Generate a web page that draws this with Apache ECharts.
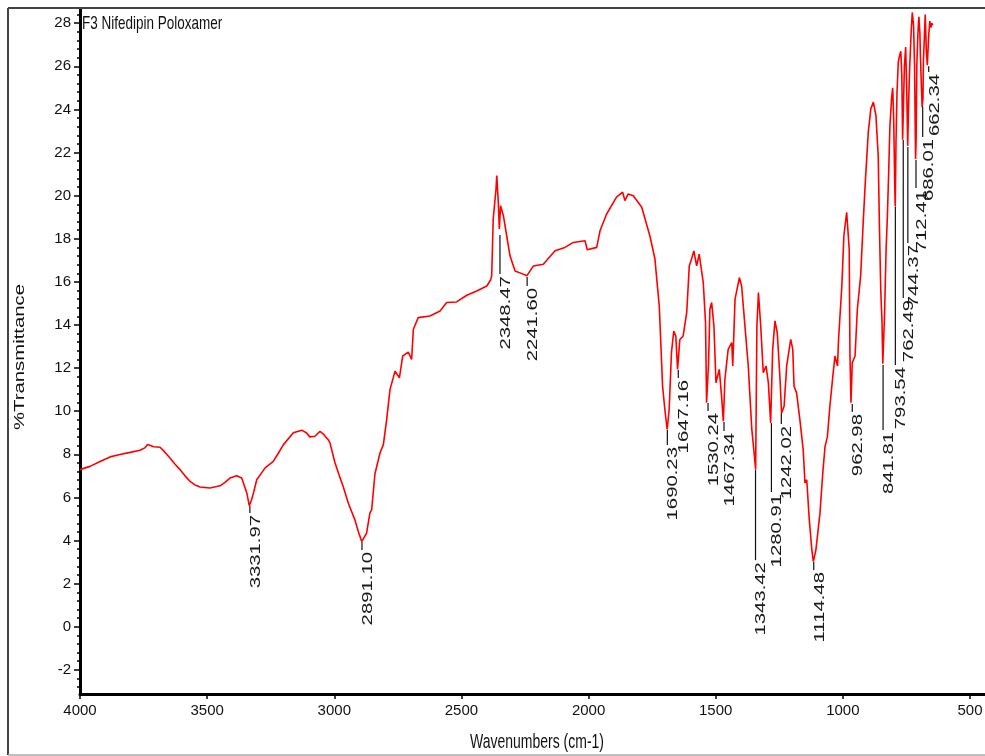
<!DOCTYPE html>
<html>
<head>
<meta charset="utf-8">
<script src="https://cdn.jsdelivr.net/npm/echarts@6/dist/echarts.min.js"></script>
<style>
html,body{margin:0;padding:0;background:#fff;}
#chart{width:985px;height:756px;}
</style>
</head>
<body>
<div id="chart"></div>
<script>
// ---- data ----
const wavenumber = [4000,3961,3921,3882,3843,3803,3764,3745,3734,3710,3685,3666,3646,3627,3607,3587,3567,3548,3528,3489,3449,3430,3410,3384,3364,3344,3334,3325,3318,3305,3272,3240,3220,3200,3161,3128,3110,3096,3076,3056,3040,3024,3017,2997,2980,2965,2945,2919,2905,2892,2873,2860,2853,2840,2820,2807,2794,2781,2761,2744,2731,2709,2696,2689,2670,2624,2584,2558,2519,2479,2440,2400,2385,2381,2375,2364,2361,2355,2351,2346,2335,2322,2309,2289,2257,2243,2217,2178,2132,2093,2060,2014,2005,1968,1955,1929,1890,1866,1857,1844,1824,1791,1759,1739,1733,1722,1717,1709,1700,1691,1683,1674,1665,1657,1650,1641,1628,1614,1604,1595,1586,1575,1565,1549,1540,1536,1528,1523,1516,1507,1499,1486,1477,1470,1464,1451,1437,1433,1424,1407,1398,1385,1372,1358,1349,1343,1338,1332,1323,1313,1302,1293,1284,1276,1267,1258,1247,1241,1231,1221,1205,1197,1192,1182,1169,1156,1149,1142,1132,1122,1116,1106,1090,1079,1070,1061,1051,1038,1031,1021,1017,1004,996,985,980,975,972,968,963,952,943,930,920,911,900,890,880,870,861,856,851,846,843,836,830,825,820,815,808,804,800,796,794,791,787,782,777,772,768,765,762,758,753,749,745,741,737,731,727,722,718,714,712,709,705,701,697,695,691,688,685,683,679,676,672,668,665,662,658,654,650,646];
const transmittance = [7.29,7.44,7.67,7.88,7.99,8.09,8.19,8.30,8.45,8.35,8.33,8.10,7.83,7.55,7.29,7.00,6.74,6.58,6.48,6.44,6.54,6.70,6.90,7.01,6.90,6.20,5.61,5.90,6.20,6.82,7.37,7.67,8.05,8.45,9.00,9.12,9.00,8.81,8.84,9.07,8.90,8.68,8.53,7.60,7.00,6.51,5.74,4.96,4.40,3.95,4.34,5.27,5.43,7.10,8.07,8.45,9.61,11.00,11.86,11.55,12.56,12.74,12.40,13.80,14.34,14.42,14.65,15.04,15.07,15.38,15.58,15.81,16.10,16.28,18.92,20.31,20.93,19.69,18.45,19.53,19.07,18.14,17.21,16.51,16.36,16.28,16.74,16.82,17.44,17.60,17.83,17.91,17.49,17.60,18.37,19.15,19.93,20.16,19.77,20.08,20.00,19.46,18.14,17.06,16.28,14.88,13.49,11.16,10.08,9.15,10.08,12.72,13.72,13.49,11.94,13.33,13.49,14.58,16.74,17.06,17.44,16.74,17.29,15.97,14.11,10.39,12.25,14.73,15.04,13.95,11.32,11.94,10.70,9.53,11.47,12.87,13.18,12.10,15.20,16.20,15.81,13.95,12.10,9.15,8.07,7.29,13.95,15.50,13.95,11.79,12.10,11.32,9.46,12.87,14.19,13.64,11.47,9.92,10.23,12.10,13.33,12.87,11.16,10.85,9.61,8.22,6.67,6.82,4.96,3.57,3.02,3.57,5.27,7.13,8.37,8.80,10.23,11.79,12.56,12.10,13.33,15.81,18.14,19.23,19.30,17.52,12.56,10.39,12.25,12.56,14.73,16.28,18.76,20.78,22.95,24.03,24.34,23.72,21.86,18.45,15.66,14.11,12.20,14.50,17.50,19.00,21.00,23.20,24.60,25.00,23.50,20.50,19.50,22.50,24.80,26.20,26.50,26.70,25.50,22.60,24.00,26.00,26.90,25.00,22.30,24.50,26.00,27.70,28.50,27.90,26.00,21.70,22.50,26.10,27.50,28.30,27.50,26.50,25.00,24.10,24.50,26.30,27.50,28.40,26.80,26.05,26.10,27.50,28.10,27.80,28.00,27.90];

const peakWavenumbers = [3331.97,2891.10,2348.47,2241.60,1690.23,1647.16,1530.24,1467.34,1343.42,1280.91,1242.02,1114.48,962.98,841.81,793.54,762.49,744.37,712.41,686.01,662.34];
const peakLineTop    = [5.60,3.93,18.18,16.23,9.13,11.91,10.38,9.50,7.27,9.45,9.92,3.00,10.33,12.14,19.48,22.58,22.26,21.65,24.12,26.00];
const peakLineBottom = [5.28,3.56,16.36,15.81,8.43,11.54,10.01,9.08,3.09,6.25,9.41,2.63,9.96,9.13,12.14,15.25,17.80,20.35,22.72,25.74];

const xTickLabels = [500,1000,1500,2000,2500,3000,3500,4000];
const yTickLabels = [-2,0,2,4,6,8,10,12,14,16,18,20,22,24,26,28];

const titleText = 'F3 Nifedipin Poloxamer';
const xName = 'Wavenumbers (cm-1)';
const yName = '%Transmittance';

// ---- build ----
const spectrum = wavenumber.map((w, i) => [w, transmittance[i]]);
const peaks = peakWavenumbers.map((w, i) => [w, peakLineTop[i], peakLineBottom[i], w.toFixed(2)]);

// minor ticks: 4 subdivisions between major y ticks (plus one step beyond ends)
const yMinor = [];
const step = (yTickLabels[1] - yTickLabels[0]) / 5;
for (let i = -1; i < yTickLabels.length; i++) {
  const base = i < 0 ? yTickLabels[0] - (yTickLabels[1] - yTickLabels[0]) : yTickLabels[i];
  for (let k = 1; k < 5; k++) yMinor.push(+(base + k * step).toFixed(2));
}

const Y_MIN = -3.12, Y_MAX = 28.66, X_MIN = 441, X_MAX = 4000;

const chart = echarts.init(document.getElementById('chart'), null, {renderer: 'canvas'});
const sans = '"Liberation Sans", Arial, sans-serif';
const plain = v => String(v);

chart.setOption({
  animation: false,
  backgroundColor: '#fff',
  grid: {left: 80, right: 0, top: 9, bottom: 62, containLabel: false, outerBoundsMode: 'none'},
  xAxis: {
    type: 'value', inverse: true, min: X_MIN, max: X_MAX,
    axisLine: {show: true, onZero: false, lineStyle: {color: '#000', width: 3}},
    axisTick: {show: true, length: 5, customValues: xTickLabels, lineStyle: {color: '#000', width: 1.5}},
    axisLabel: {customValues: xTickLabels, formatter: plain, margin: 9, fontFamily: sans, fontSize: 15, color: '#111'},
    splitLine: {show: false}
  },
  yAxis: [{
    type: 'value', min: Y_MIN, max: Y_MAX, position: 'left', offset: 0,
    axisLine: {show: true, onZero: false, lineStyle: {color: '#000', width: 3}},
    axisTick: {show: true, length: 6, customValues: yTickLabels, lineStyle: {color: '#000', width: 1.5}},
    axisLabel: {customValues: yTickLabels, formatter: plain, margin: 9, fontFamily: sans, fontSize: 15, color: '#111'},
    splitLine: {show: false}
  }, {
    type: 'value', min: Y_MIN, max: Y_MAX, position: 'left', offset: 0,
    axisLine: {show: false},
    axisTick: {show: true, length: 3, customValues: yMinor, lineStyle: {color: '#000', width: 1.5}},
    axisLabel: {show: false},
    splitLine: {show: false}
  }],
  graphic: [
    {type: 'line', shape: {x1: 8, y1: 8, x2: 990, y2: 8}, style: {stroke: '#444', lineWidth: 2}, z: 100},
    {type: 'line', shape: {x1: 8, y1: 8, x2: 8, y2: 755}, style: {stroke: '#444', lineWidth: 2}, z: 100},
    {type: 'line', shape: {x1: 8, y1: 755, x2: 990, y2: 755}, style: {stroke: '#aaa', lineWidth: 1.5}, z: 100},
    {type: 'text', x: 82, y: 24, scaleY: 1.3,
      style: {text: titleText, font: '13.5px "Liberation Sans"', fill: '#111', textAlign: 'left', textVerticalAlign: 'middle'}, z: 100},
    {type: 'text', x: 537, y: 742, scaleY: 1.45,
      style: {text: xName, font: '14px "Liberation Sans"', fill: '#111', textAlign: 'center', textVerticalAlign: 'middle'}, z: 100},
    {type: 'text', x: 20, y: 357, rotation: Math.PI / 2, scaleX: 1.45,
      style: {text: yName, font: '14px "Liberation Sans"', fill: '#111', textAlign: 'center', textVerticalAlign: 'middle'}, z: 100}
  ],
  series: [{
    type: 'line', data: spectrum, showSymbol: false, symbol: 'none',
    lineStyle: {color: '#ff0000', width: 1.6}, clip: true, z: 3
  }, {
    type: 'custom', data: peaks, z: 4,
    renderItem: function (params, api) {
      const p1 = api.coord([api.value(0), api.value(1)]);
      const p2 = api.coord([api.value(0), api.value(2)]);
      const label = peaks[params.dataIndex][3];
      return {
        type: 'group',
        children: [{
          type: 'line',
          shape: {x1: p1[0], y1: p1[1], x2: p2[0], y2: p2[1]},
          style: {stroke: '#111', lineWidth: 1.2}
        }, {
          type: 'text',
          x: p2[0] - 1, y: p2[1] + 2,
          rotation: Math.PI / 2, scaleX: 1.45,
          style: {text: label, font: '14px "Liberation Sans"', fill: '#1a1a1a', align: 'right', verticalAlign: 'top'}
        }]
      };
    }
  }]
});
</script>
</body>
</html>
